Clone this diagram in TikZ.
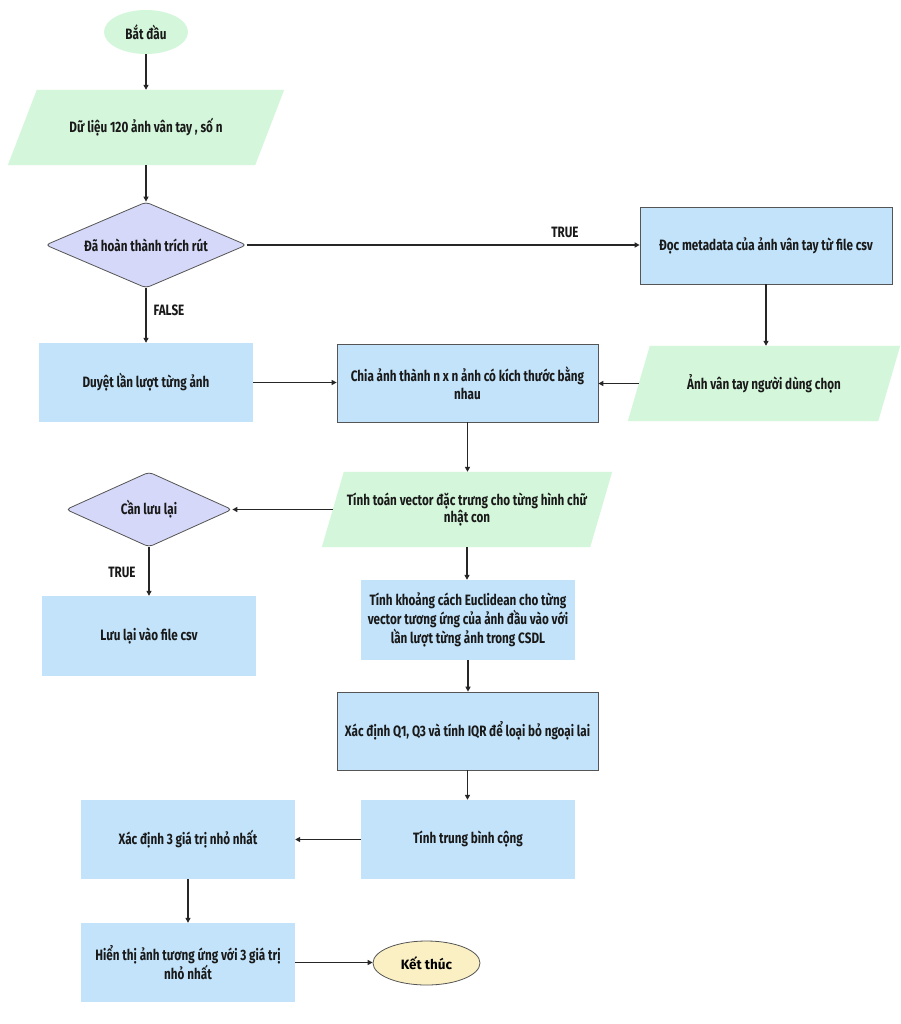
\documentclass[tikz,border=0pt]{standalone}
\usepackage{fontspec}
\usetikzlibrary{shapes.geometric,arrows.meta,backgrounds}
\newfontfamily\cond{Fira Sans}[FakeStretch=0.78]
\newfontfamily\endfont{Fira Sans}
\definecolor{greenF}{HTML}{D4F7DB}
\definecolor{blueF}{HTML}{C2E3FA}
\definecolor{lavF}{HTML}{D5D8F8}
\definecolor{yelF}{HTML}{FBF0C3}
\definecolor{edge}{HTML}{555555}
\begin{document}
\begin{tikzpicture}[x=1pt,y=-1pt,
  arr/.style={-{Triangle[length=5pt,width=5pt]}, line width=1.2pt, draw=black!85},
  txt/.style={font=\cond\bfseries\fontsize{15}{17.5}\selectfont, align=center, text=black!90},
  boxb/.style={txt, rectangle, fill=blueF, inner sep=0pt},
  boxbd/.style={boxb, draw=edge, line width=0.7pt},
  parab/.style={txt, rectangle, inner sep=0pt},
  dec/.style={txt, diamond, fill=lavF, draw=edge, line width=0.8pt, rounded corners=4pt, inner sep=0pt},
  lbl/.style={txt}
]
\useasboundingbox (0,0) rectangle (900,1024);

\node[txt, ellipse, fill=greenF, minimum width=84pt, minimum height=44pt, inner sep=0pt] (start) at (146,32) {Bắt đầu};
\node[parab, minimum width=247pt, minimum height=75pt] (data) at (146,127.5) {Dữ liệu 120 ảnh vân tay , số n};
\node[dec, aspect=2.34, minimum width=201pt, minimum height=86pt] (d1) at (146,245) {Đã hoàn thành trích rút};
\node[boxbd, minimum width=252pt, minimum height=77pt] (meta) at (766,245.5) {Đọc metadata của ảnh vân tay từ file csv};
\node[parab, minimum width=250pt, minimum height=75pt] (anh) at (764,383.5) {Ảnh vân tay người dùng chọn};
\node[boxb, minimum width=214pt, minimum height=79pt] (duyet) at (146,382.5) {Duyệt lần lượt từng ảnh};
\node[boxbd, minimum width=261pt, minimum height=78pt] (chia) at (467.5,383) {Chia ảnh thành n x n ảnh có kích thước bằng\\nhau};
\node[parab, minimum width=268pt, minimum height=75pt] (tinh) at (467,509.5) {Tính toán vector đặc trưng cho từng hình chữ\\nhật con};
\node[dec, aspect=2.2, minimum width=166pt, minimum height=75pt] (d2) at (149,509.5) {Cần lưu lại};
\node[boxb, minimum width=214pt, minimum height=80pt] (luu) at (149,636) {Lưu lại vào file csv};
\node[boxb, minimum width=214pt, minimum height=80pt] (euclid) at (468,620) {Tính khoảng cách Euclidean cho từng\\vector tương ứng của ảnh đầu vào với\\lần lượt từng ảnh trong CSDL};
\node[boxbd, minimum width=261pt, minimum height=78pt] (q) at (467.5,731) {Xác định Q1, Q3 và tính IQR để loại bỏ ngoại lai};
\node[boxb, minimum width=214pt, minimum height=79pt] (tb) at (468,839.5) {Tính trung bình cộng};
\node[boxb, minimum width=214pt, minimum height=79pt] (xd3) at (188,839.5) {Xác định 3 giá trị nhỏ nhất};
\node[boxb, minimum width=214pt, minimum height=79pt] (hien) at (188,962.5) {Hiển thị ảnh tương ứng với 3 giá trị\\nhỏ nhất};
\node[ellipse, fill=yelF, draw=edge, line width=0.8pt, minimum width=107pt, minimum height=44pt, inner sep=0pt, font=\endfont\bfseries\fontsize{13.5}{16}\selectfont] (end) at (426.5,963) {Kết thúc};

\begin{scope}[on background layer]
\fill[white] (0,0) rectangle (900,1024);
\fill[greenF] ([xshift=14.5pt]data.north west) -- ([xshift=14.5pt]data.north east) -- ([xshift=-14.5pt]data.south east) -- ([xshift=-14.5pt]data.south west) -- cycle;
\fill[greenF] ([xshift=11pt]anh.north west) -- ([xshift=11pt]anh.north east) -- ([xshift=-11pt]anh.south east) -- ([xshift=-11pt]anh.south west) -- cycle;
\fill[greenF] ([xshift=11pt]tinh.north west) -- ([xshift=11pt]tinh.north east) -- ([xshift=-11pt]tinh.south east) -- ([xshift=-11pt]tinh.south west) -- cycle;
\end{scope}

\draw[arr] (start) -- (data);
\draw[arr] (data) -- (d1);
\draw[arr] (d1.east) -- (d1.east -| meta.west);
\node[lbl] (ltrue1) at (565,232) {TRUE};
\draw[arr] (meta.south) -- (meta.south |- anh.north);
\draw[arr] (anh.west) -- (anh.west -| chia.east);
\draw[arr] (d1.south) -- (duyet.north);
\node[lbl] (lfalse) at (169,310) {FALSE};
\draw[arr] (duyet.east) -- (duyet.east -| chia.west);
\draw[arr] (chia.south) -- (chia.south |- tinh.north);
\draw[arr] (tinh.west) -- (d2.east);
\draw[arr] (d2.south) -- (luu.north);
\node[lbl] (ltrue2) at (122,572) {TRUE};
\draw[arr] (tinh.south) -- (tinh.south |- euclid.north);
\draw[arr] (euclid.south) -- (euclid.south |- q.north);
\draw[arr] (q.south) -- (q.south |- tb.north);
\draw[arr] (tb.west) -- (xd3.east);
\draw[arr] (xd3.south) -- (hien.north);
\draw[arr] (hien.east) -- (hien.east -| end.west);
\end{tikzpicture}
\end{document}
